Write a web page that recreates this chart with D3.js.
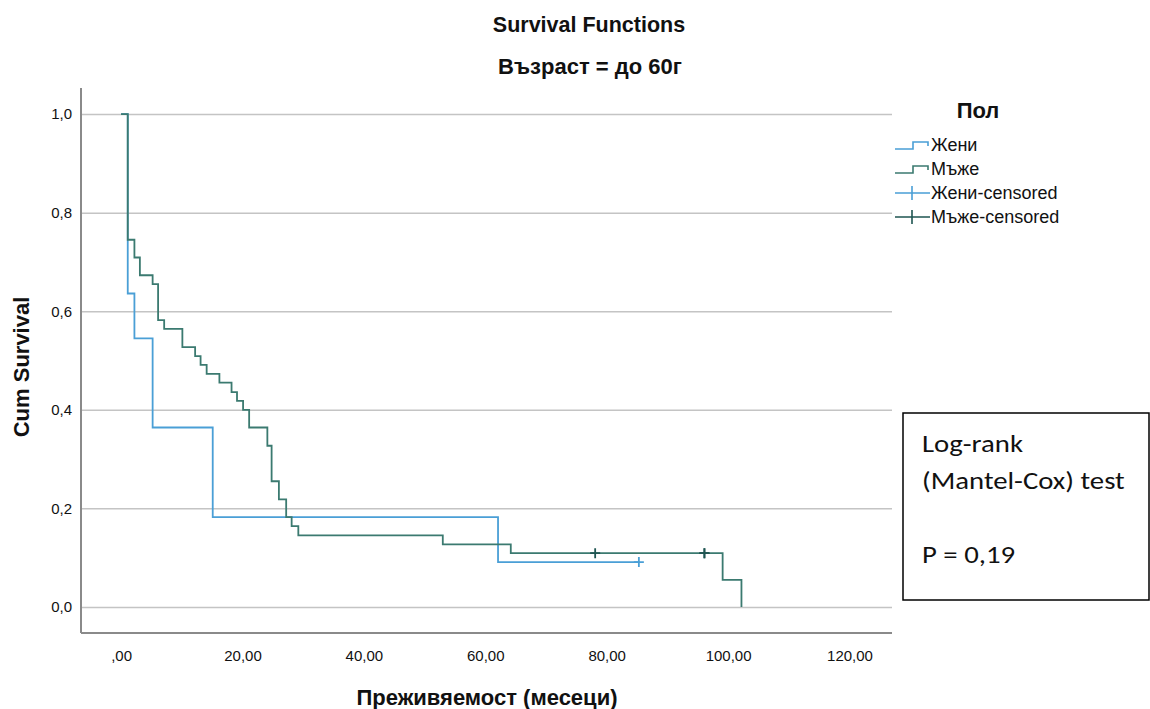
<!DOCTYPE html>
<html>
<head>
<meta charset="utf-8">
<script src="https://cdn.jsdelivr.net/npm/d3@7"></script>
<style>
	body { margin: 0; background: #fff; }
	text { font-family: "Liberation Sans", Arial, sans-serif; fill: #111; }
	.gridlines line { stroke: #c4c4c4; stroke-width: 1.5; }
	.gridlines path { stroke: none; }
</style>
</head>
<body>
<div id="figure"></div>
<script>
var w = 1150;
var h = 709;

// Kaplan-Meier steps (time in months, survival after the drop)
var femaleTime = [0, 1.1, 2.2, 5.2, 15.1, 62.1];
var femaleSurv = [1.0, 0.636, 0.545, 0.364, 0.182, 0.091];
var femaleEnd = 85.3;
var femaleCensored = [85.3];

var maleTime = [0, 1.1, 2.2, 3.1, 5.2, 6.1, 7.1, 10.1, 12.2, 13.1, 14.1, 16.2, 18.2, 19.1, 20.1, 21.1, 24.1, 24.8, 26.0, 27.2, 28.1, 29.2, 53.0, 64.2, 99.1, 102.2];
var maleSurv = [1.0, 0.745, 0.709, 0.673, 0.655, 0.582, 0.564, 0.527, 0.509, 0.491, 0.473, 0.455, 0.436, 0.418, 0.400, 0.364, 0.327, 0.255, 0.218, 0.182, 0.164, 0.145, 0.127, 0.109, 0.055, 0.0];
var maleEnd = 102.2;
var maleCensored = [78.1, 96.1, 96.1];

var xTicks = [0, 20, 40, 60, 80, 100, 120];
var yTicks = [0, 0.2, 0.4, 0.6, 0.8, 1.0];
var legendLabels = ["Жени", "Мъже", "Жени-censored", "Мъже-censored"];
var statLines = ["Log-rank", "(Mantel-Cox) test", "", "P = 0,19"];

var femaleColor = "#4a9fd6";
var maleColor = "#3b7a70";
var maleCensorColor = "#1f5552";

var plot = { left: 81, right: 892, top: 88, bottom: 633 };

var svg = d3.select('#figure')
	.append('svg')
	.attr('width', w)
	.attr('height', h);

var xScale = d3.scaleLinear()
	.domain([-6.6, 127])
	.range([plot.left, plot.right]);

var yScale = d3.scaleLinear()
	.domain([-0.053, 1.053])
	.range([plot.bottom, plot.top]);

var comma = function(d){ return d.toFixed(2).replace(/^0/, '').replace('.', ','); };

//Gridlines
svg.append('g')
	.classed('gridlines', true)
	.attr('transform', 'translate(' + plot.left + ',0)')
	.call(d3.axisLeft(yScale)
		.tickValues(yTicks)
		.tickSize(-(plot.right - plot.left))
		.tickFormat("")
	);

//Axes lines
svg.append('line')
	.attr('x1', plot.left).attr('x2', plot.left)
	.attr('y1', plot.top).attr('y2', plot.bottom)
	.attr('stroke', '#8a8a8a').attr('stroke-width', 2);
svg.append('line')
	.attr('x1', plot.left).attr('x2', plot.right)
	.attr('y1', plot.bottom).attr('y2', plot.bottom)
	.attr('stroke', '#8a8a8a').attr('stroke-width', 2);

//Tick labels
var yAxis = svg.append('g')
	.attr('transform', 'translate(' + (plot.left - 6) + ',0)')
	.call(d3.axisLeft(yScale)
		.tickValues(yTicks)
		.tickSize(0)
		.tickFormat(function(d){ return d.toFixed(1).replace('.', ','); })
	);
yAxis.select('.domain').remove();
yAxis.selectAll('text').attr('font-size', 15).attr('fill', '#222').attr('dx', 0);

var xAxis = svg.append('g')
	.attr('transform', 'translate(0,' + plot.bottom + ')')
	.call(d3.axisBottom(xScale)
		.tickValues(xTicks)
		.tickSize(0)
		.tickFormat(comma)
	);
xAxis.select('.domain').remove();
xAxis.selectAll('text').attr('font-size', 15).attr('fill', '#222').attr('dy', 25);

//Titles
svg.append('text')
	.attr('x', 589).attr('y', 32)
	.attr('text-anchor', 'middle')
	.attr('font-size', 21.5).attr('font-weight', 'bold')
	.text('Survival Functions');
svg.append('text')
	.attr('x', 590).attr('y', 74)
	.attr('text-anchor', 'middle')
	.attr('font-size', 22).attr('font-weight', 'bold')
	.text('Възраст = до 60г');
svg.append('text')
	.attr('x', 487).attr('y', 705)
	.attr('text-anchor', 'middle')
	.attr('font-size', 22).attr('font-weight', 'bold')
	.text('Преживяемост (месеци)');
svg.append('text')
	.attr('transform', 'translate(29,367) rotate(-90)')
	.attr('text-anchor', 'middle')
	.attr('font-size', 22).attr('font-weight', 'bold')
	.text('Cum Survival');

//Step curves
function stepPoints(times, surv, end){
	var pts = times.map(function(t, i){ return [t, surv[i]]; });
	pts.push([end, surv[surv.length - 1]]);
	return pts;
}
var line = d3.line()
	.x(function(d){ return xScale(d[0]); })
	.y(function(d){ return yScale(d[1]); })
	.curve(d3.curveStepAfter);

svg.append('path')
	.datum(stepPoints(femaleTime, femaleSurv, femaleEnd))
	.attr('d', line)
	.attr('fill', 'none')
	.attr('stroke', femaleColor)
	.attr('stroke-width', 1.8);

svg.append('path')
	.datum(stepPoints(maleTime, maleSurv, maleEnd))
	.attr('d', line)
	.attr('fill', 'none')
	.attr('stroke', maleColor)
	.attr('stroke-width', 1.8);

//Censor marks
function survAt(times, surv, t){
	var i = d3.bisectRight(times, t) - 1;
	return surv[i];
}
function drawCensors(list, times, surv, color){
	var g = svg.append('g');
	g.selectAll('path')
		.data(list)
		.enter()
		.append('path')
		.attr('d', function(d){
			var cx = xScale(d), cy = yScale(survAt(times, surv, d));
			return 'M' + (cx - 5) + ',' + cy + 'H' + (cx + 5) + 'M' + cx + ',' + (cy - 5) + 'V' + (cy + 5);
		})
		.attr('stroke', color)
		.attr('stroke-width', 1.8)
		.attr('fill', 'none');
}
drawCensors(femaleCensored, femaleTime, femaleSurv, femaleColor);
drawCensors(maleCensored, maleTime, maleSurv, maleCensorColor);

//Legend
var legend = svg.append('g').attr('transform', 'translate(895,0)');
legend.append('text')
	.attr('x', 83).attr('y', 118)
	.attr('text-anchor', 'middle')
	.attr('font-size', 22).attr('font-weight', 'bold')
	.text('Пол');

var legendColors = [femaleColor, maleColor, femaleColor, maleCensorColor];
var rows = legend.selectAll('g.row')
	.data(legendLabels)
	.enter()
	.append('g')
	.classed('row', true)
	.attr('transform', function(d, i){ return 'translate(0,' + (145 + i * 24) + ')'; });

rows.append('path')
	.attr('d', function(d, i){
		if(i < 2){ return 'M0,4H18V-3H33V1'; }
		return 'M0,0H35M17,-7V7';
	})
	.attr('fill', 'none')
	.attr('stroke', function(d, i){ return legendColors[i]; })
	.attr('stroke-width', 1.6);

rows.append('text')
	.attr('x', 36).attr('y', 6)
	.attr('font-size', 18)
	.attr('fill', '#222')
	.text(function(d){ return d; });

//Log-rank box
var box = svg.append('g');
box.append('rect')
	.attr('x', 903).attr('y', 413)
	.attr('width', 246).attr('height', 187)
	.attr('fill', '#fff')
	.attr('stroke', '#000')
	.attr('stroke-width', 1.5);
box.append('g')
	.attr('transform', 'translate(922,0) scale(1.15,1)')
	.selectAll('text')
	.data(statLines)
	.enter()
	.append('text')
	.attr('x', 0)
	.attr('y', function(d, i){ return 452 + i * 37; })
	.style('font-family', 'Carlito, Calibri, "Open Sans", sans-serif')
	.attr('font-size', 25)
	.attr('fill', '#000')
	.text(function(d){ return d; });
</script>
</body>
</html>
